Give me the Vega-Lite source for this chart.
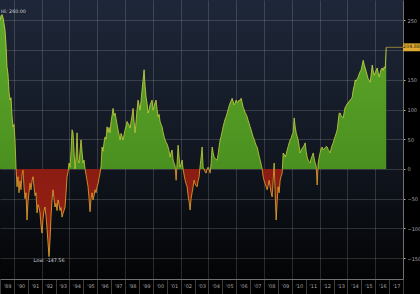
{
 "$schema": "https://vega.github.io/schema/vega-lite/v6.json",
 "width": 403,
 "height": 279,
 "autosize": {"type": "none"},
 "padding": {"left": 0, "top": 0, "right": 17, "bottom": 15},
 "background": "#000000",
 "config": {
  "view": {"stroke": null, "fill": {"gradient": "linear", "x1": 0, "y1": 0, "x2": 0, "y2": 1, "stops": [{"offset": 0, "color": "#1e2739"}, {"offset": 0.5, "color": "#131924"}, {"offset": 1, "color": "#030405"}]}},
  "font": "DejaVu Sans"
 },
 "datasets": {
  "series": [
{"t":1989.000,"v":250},{"t":1989.072,"v":258},{"t":1989.144,"v":260},{"t":1989.216,"v":255},{"t":1989.288,"v":245},{"t":1989.360,"v":234},{"t":1989.432,"v":210},{"t":1989.504,"v":172},{"t":1989.576,"v":160},{"t":1989.648,"v":130},
{"t":1989.720,"v":116},{"t":1989.792,"v":120},{"t":1989.864,"v":90},{"t":1989.936,"v":71},{"t":1990.008,"v":75},{"t":1990.080,"v":49},{"t":1990.152,"v":3},{"t":1990.224,"v":-30},{"t":1990.296,"v":-13},{"t":1990.368,"v":-40},
{"t":1990.440,"v":-20},{"t":1990.512,"v":-35},{"t":1990.584,"v":-10},{"t":1990.656,"v":-2},{"t":1990.728,"v":-30},{"t":1990.800,"v":-50},{"t":1990.872,"v":-40},{"t":1990.944,"v":-86},{"t":1991.016,"v":-55},{"t":1991.088,"v":-40},
{"t":1991.160,"v":-24},{"t":1991.232,"v":-35},{"t":1991.304,"v":-20},{"t":1991.376,"v":-13},{"t":1991.448,"v":-30},{"t":1991.520,"v":-45},{"t":1991.592,"v":-40},{"t":1991.664,"v":-74},{"t":1991.736,"v":-60},{"t":1991.808,"v":-65},
{"t":1991.880,"v":-74},{"t":1991.952,"v":-95},{"t":1992.024,"v":-108},{"t":1992.096,"v":-85},{"t":1992.168,"v":-70},{"t":1992.240,"v":-64},{"t":1992.312,"v":-80},{"t":1992.384,"v":-100},{"t":1992.456,"v":-125},{"t":1992.528,"v":-147.56},
{"t":1992.600,"v":-120},{"t":1992.672,"v":-80},{"t":1992.744,"v":-52},{"t":1992.816,"v":-35},{"t":1992.888,"v":-50},{"t":1992.960,"v":-64},{"t":1993.032,"v":-58},{"t":1993.104,"v":-70},{"t":1993.176,"v":-52},{"t":1993.248,"v":-60},
{"t":1993.320,"v":-70},{"t":1993.392,"v":-65},{"t":1993.464,"v":-81},{"t":1993.536,"v":-75},{"t":1993.608,"v":-70},{"t":1993.680,"v":-64},{"t":1993.752,"v":-40},{"t":1993.824,"v":-13},{"t":1993.896,"v":-5},{"t":1993.968,"v":10},
{"t":1994.040,"v":3},{"t":1994.112,"v":30},{"t":1994.184,"v":66},{"t":1994.256,"v":61},{"t":1994.328,"v":30},{"t":1994.400,"v":0},{"t":1994.472,"v":20},{"t":1994.544,"v":61},{"t":1994.616,"v":15},{"t":1994.688,"v":10},
{"t":1994.760,"v":30},{"t":1994.832,"v":49},{"t":1994.904,"v":30},{"t":1994.976,"v":10},{"t":1995.048,"v":15},{"t":1995.120,"v":0},{"t":1995.192,"v":-10},{"t":1995.264,"v":-20},{"t":1995.336,"v":-30},{"t":1995.408,"v":-50},
{"t":1995.480,"v":-72},{"t":1995.552,"v":-50},{"t":1995.624,"v":-40},{"t":1995.696,"v":-52},{"t":1995.768,"v":-45},{"t":1995.840,"v":-35},{"t":1995.912,"v":-40},{"t":1995.984,"v":-30},{"t":1996.056,"v":-25},{"t":1996.128,"v":-15},
{"t":1996.200,"v":-7},{"t":1996.272,"v":5},{"t":1996.344,"v":37},{"t":1996.416,"v":30},{"t":1996.488,"v":45},{"t":1996.560,"v":54},{"t":1996.632,"v":50},{"t":1996.704,"v":71},{"t":1996.776,"v":62},{"t":1996.848,"v":70},
{"t":1996.920,"v":61},{"t":1996.992,"v":80},{"t":1997.064,"v":90},{"t":1997.136,"v":102},{"t":1997.208,"v":90},{"t":1997.280,"v":94},{"t":1997.352,"v":85},{"t":1997.424,"v":75},{"t":1997.496,"v":66},{"t":1997.568,"v":58},
{"t":1997.640,"v":49},{"t":1997.712,"v":60},{"t":1997.784,"v":55},{"t":1997.856,"v":49},{"t":1997.928,"v":58},{"t":1998.000,"v":66},{"t":1998.072,"v":72},{"t":1998.144,"v":80},{"t":1998.216,"v":77},{"t":1998.288,"v":74},
{"t":1998.360,"v":69},{"t":1998.432,"v":80},{"t":1998.504,"v":90},{"t":1998.576,"v":102},{"t":1998.648,"v":80},{"t":1998.720,"v":61},{"t":1998.792,"v":80},{"t":1998.864,"v":100},{"t":1998.936,"v":116},{"t":1999.008,"v":108},
{"t":1999.080,"v":99},{"t":1999.152,"v":115},{"t":1999.224,"v":133},{"t":1999.296,"v":150},{"t":1999.368,"v":167},{"t":1999.440,"v":140},{"t":1999.512,"v":121},{"t":1999.584,"v":110},{"t":1999.656,"v":94},{"t":1999.728,"v":100},
{"t":1999.800,"v":108},{"t":1999.872,"v":112},{"t":1999.944,"v":116},{"t":2000.016,"v":99},{"t":2000.088,"v":105},{"t":2000.160,"v":112},{"t":2000.232,"v":116},{"t":2000.304,"v":100},{"t":2000.376,"v":88},{"t":2000.448,"v":92},
{"t":2000.520,"v":80},{"t":2000.592,"v":75},{"t":2000.664,"v":71},{"t":2000.736,"v":62},{"t":2000.808,"v":55},{"t":2000.880,"v":49},{"t":2000.952,"v":45},{"t":2001.024,"v":42},{"t":2001.096,"v":37},{"t":2001.168,"v":30},
{"t":2001.240,"v":20},{"t":2001.312,"v":28},{"t":2001.384,"v":32},{"t":2001.456,"v":15},{"t":2001.528,"v":10},{"t":2001.600,"v":5},{"t":2001.672,"v":-19},{"t":2001.744,"v":10},{"t":2001.816,"v":40},{"t":2001.888,"v":20},
{"t":2001.960,"v":3},{"t":2002.032,"v":8},{"t":2002.104,"v":15},{"t":2002.176,"v":0},{"t":2002.248,"v":-10},{"t":2002.320,"v":-19},{"t":2002.392,"v":-25},{"t":2002.464,"v":-30},{"t":2002.536,"v":-45},{"t":2002.608,"v":-55},
{"t":2002.680,"v":-69},{"t":2002.752,"v":-50},{"t":2002.824,"v":-40},{"t":2002.896,"v":-30},{"t":2002.968,"v":-19},{"t":2003.040,"v":-25},{"t":2003.112,"v":-28},{"t":2003.184,"v":-30},{"t":2003.256,"v":-20},{"t":2003.328,"v":-13},
{"t":2003.400,"v":5},{"t":2003.472,"v":20},{"t":2003.544,"v":37},{"t":2003.616,"v":3},{"t":2003.688,"v":0},{"t":2003.760,"v":-5},{"t":2003.832,"v":-7},{"t":2003.904,"v":0},{"t":2003.976,"v":3},{"t":2004.048,"v":0},
{"t":2004.120,"v":-7},{"t":2004.192,"v":10},{"t":2004.264,"v":37},{"t":2004.336,"v":28},{"t":2004.408,"v":20},{"t":2004.480,"v":18},{"t":2004.552,"v":16},{"t":2004.624,"v":15},{"t":2004.696,"v":25},{"t":2004.768,"v":38},
{"t":2004.840,"v":49},{"t":2004.912,"v":55},{"t":2004.984,"v":63},{"t":2005.056,"v":71},{"t":2005.128,"v":78},{"t":2005.200,"v":84},{"t":2005.272,"v":88},{"t":2005.344,"v":94},{"t":2005.416,"v":100},{"t":2005.488,"v":106},
{"t":2005.560,"v":111},{"t":2005.632,"v":115},{"t":2005.704,"v":119},{"t":2005.776,"v":114},{"t":2005.848,"v":108},{"t":2005.920,"v":111},{"t":2005.992,"v":116},{"t":2006.064,"v":112},{"t":2006.136,"v":113},{"t":2006.208,"v":116},
{"t":2006.280,"v":115},{"t":2006.352,"v":119},{"t":2006.424,"v":112},{"t":2006.496,"v":104},{"t":2006.568,"v":100},{"t":2006.640,"v":95},{"t":2006.712,"v":92},{"t":2006.784,"v":88},{"t":2006.856,"v":82},{"t":2006.928,"v":77},
{"t":2007.000,"v":71},{"t":2007.072,"v":66},{"t":2007.144,"v":60},{"t":2007.216,"v":54},{"t":2007.288,"v":50},{"t":2007.360,"v":45},{"t":2007.432,"v":40},{"t":2007.504,"v":37},{"t":2007.576,"v":30},{"t":2007.648,"v":22},
{"t":2007.720,"v":15},{"t":2007.792,"v":8},{"t":2007.864,"v":0},{"t":2007.936,"v":-13},{"t":2008.008,"v":-20},{"t":2008.080,"v":-25},{"t":2008.152,"v":-30},{"t":2008.224,"v":-35},{"t":2008.296,"v":-28},{"t":2008.368,"v":-19},
{"t":2008.440,"v":-30},{"t":2008.512,"v":-40},{"t":2008.584,"v":-47},{"t":2008.656,"v":-20},{"t":2008.728,"v":10},{"t":2008.800,"v":-40},{"t":2008.872,"v":-86},{"t":2008.944,"v":-55},{"t":2009.016,"v":-30},{"t":2009.088,"v":-40},
{"t":2009.160,"v":-19},{"t":2009.232,"v":-12},{"t":2009.304,"v":-7},{"t":2009.376,"v":27},{"t":2009.448,"v":25},{"t":2009.520,"v":20},{"t":2009.592,"v":25},{"t":2009.664,"v":32},{"t":2009.736,"v":38},{"t":2009.808,"v":44},
{"t":2009.880,"v":49},{"t":2009.952,"v":52},{"t":2010.024,"v":58},{"t":2010.096,"v":61},{"t":2010.168,"v":86},{"t":2010.240,"v":72},{"t":2010.312,"v":61},{"t":2010.384,"v":55},{"t":2010.456,"v":49},{"t":2010.528,"v":38},
{"t":2010.600,"v":27},{"t":2010.672,"v":32},{"t":2010.744,"v":35},{"t":2010.816,"v":37},{"t":2010.888,"v":40},{"t":2010.960,"v":44},{"t":2011.032,"v":30},{"t":2011.104,"v":20},{"t":2011.176,"v":15},{"t":2011.248,"v":12},
{"t":2011.320,"v":10},{"t":2011.392,"v":18},{"t":2011.464,"v":22},{"t":2011.536,"v":27},{"t":2011.608,"v":18},{"t":2011.680,"v":10},{"t":2011.752,"v":5},{"t":2011.824,"v":-27},{"t":2011.896,"v":10},{"t":2011.968,"v":20},
{"t":2012.040,"v":28},{"t":2012.112,"v":35},{"t":2012.184,"v":37},{"t":2012.256,"v":32},{"t":2012.328,"v":34},{"t":2012.400,"v":36},{"t":2012.472,"v":38},{"t":2012.544,"v":37},{"t":2012.616,"v":33},{"t":2012.688,"v":30},
{"t":2012.760,"v":27},{"t":2012.832,"v":35},{"t":2012.904,"v":40},{"t":2012.976,"v":44},{"t":2013.048,"v":50},{"t":2013.120,"v":55},{"t":2013.192,"v":60},{"t":2013.264,"v":66},{"t":2013.336,"v":80},{"t":2013.408,"v":94},
{"t":2013.480,"v":94},{"t":2013.552,"v":90},{"t":2013.624,"v":88},{"t":2013.696,"v":86},{"t":2013.768,"v":96},{"t":2013.840,"v":104},{"t":2013.912,"v":106},{"t":2013.984,"v":110},{"t":2014.056,"v":111},{"t":2014.128,"v":114},
{"t":2014.200,"v":116},{"t":2014.272,"v":118},{"t":2014.344,"v":121},{"t":2014.416,"v":133},{"t":2014.488,"v":140},{"t":2014.560,"v":150},{"t":2014.632,"v":148},{"t":2014.704,"v":152},{"t":2014.776,"v":155},{"t":2014.848,"v":160},
{"t":2014.920,"v":164},{"t":2014.992,"v":167},{"t":2015.064,"v":175},{"t":2015.136,"v":183},{"t":2015.208,"v":176},{"t":2015.280,"v":170},{"t":2015.352,"v":164},{"t":2015.424,"v":158},{"t":2015.496,"v":152},{"t":2015.568,"v":149},
{"t":2015.640,"v":146},{"t":2015.712,"v":160},{"t":2015.784,"v":175},{"t":2015.856,"v":165},{"t":2015.928,"v":158},{"t":2016.000,"v":162},{"t":2016.072,"v":166},{"t":2016.144,"v":170},{"t":2016.216,"v":162},{"t":2016.288,"v":155},
{"t":2016.360,"v":162},{"t":2016.432,"v":168},{"t":2016.504,"v":170},{"t":2016.576,"v":166},{"t":2016.648,"v":172},{"t":2016.720,"v":170},{"t":2016.792,"v":204.88}
  ]
 },
 "layer": [
  {
   "data": {"name": "series"},
   "mark": {"type": "area", "stroke": null, "fill": {"gradient": "linear", "x1": 0, "y1": 0, "x2": 0, "y2": 1, "stops": [{"offset": 0, "color": "#5ea82a"}, {"offset": 0.637, "color": "#4a9020"}, {"offset": 0.639, "color": "#8a1c12"}, {"offset": 1, "color": "#9a2214"}]}},
   "encoding": {
    "x": {"field": "t", "type": "quantitative", "scale": {"domain": [1989, 2018], "nice": false, "zero": false},
     "axis": {"orient": "bottom", "title": null, "tickCount": 100, "values": [1989,1990,1991,1992,1993,1994,1995,1996,1997,1998,1999,2000,2001,2002,2003,2004,2005,2006,2007,2008,2009,2010,2011,2012,2013,2014,2015,2016,2017,2018],
      "labelExpr": "datum.value < 2018 ? \"'\" + format(datum.value % 100, '02d') : ''",
      "labelOffset": 7, "labelAlign": "center", "labelPadding": -11, "labelFontSize": 5, "labelColor": "#a8a8a8", "labelOverlap": false, "labelFlush": false, "labelBound": false,
      "domainColor": "#707070", "tickColor": "#3c3c3c", "tickSize": 15, "tickWidth": 1,
      "grid": true, "gridColor": "#ffffff", "gridOpacity": {"condition": {"test": "datum.value % 2 == 0", "value": 0.15}, "value": 0}}},
    "y": {"field": "v", "type": "quantitative", "stack": null, "scale": {"domain": [-185.2, 284.5], "nice": false, "zero": false},
     "axis": {"orient": "right", "title": null, "tickCount": 100, "values": [-150,-100,-50,0,50,100,150,200,250],
      "labelExpr": "datum.value == 200 ? '' : datum.label", "labelOverlap": false,
      "labelFontSize": 5, "labelColor": "#a8a8a8", "labelPadding": 2, "domainColor": "#707070", "tickColor": "#c0b070", "tickSize": 2,
      "grid": true, "gridColor": "#ffffff", "gridOpacity": 0.15}},
    "y2": {"datum": 0}
   }
  },
  {
   "data": {"name": "series"},
   "mark": {"type": "line", "strokeWidth": 0.8, "stroke": {"gradient": "linear", "x1": 0, "y1": 0, "x2": 0, "y2": 1, "stops": [{"offset": 0, "color": "#d6dc48"}, {"offset": 0.637, "color": "#c4cc38"}, {"offset": 0.639, "color": "#e8a22c"}, {"offset": 1, "color": "#f0b030"}]}},
   "encoding": {
    "x": {"field": "t", "type": "quantitative"},
    "y": {"field": "v", "type": "quantitative"}
   }
  },
  {
   "data": {"values": [{"t": 2016.792, "v": 204.88, "label": "204.88"}]},
   "layer": [
    {"mark": {"type": "rule", "color": "#c8a848", "strokeWidth": 0.7},
     "encoding": {"x": {"field": "t", "type": "quantitative"}, "x2": {"datum": 2018}, "y": {"field": "v", "type": "quantitative"}}},
    {"mark": {"type": "rect", "color": "#e0aa30"},
     "encoding": {"x": {"datum": 2018}, "x2": {"datum": 2019.22}, "y": {"datum": 211.5}, "y2": {"datum": 198.2}}},
    {"mark": {"type": "text", "fontSize": 4.8, "color": "#2a2208", "align": "center", "baseline": "middle"},
     "encoding": {"x": {"datum": 2018.61}, "y": {"field": "v", "type": "quantitative"}, "text": {"field": "label"}}}
   ]
  },
  {
   "data": {"values": [{"t": 1989.144, "v": 260, "label": "Hi: 260.00"}]},
   "mark": {"type": "text", "fontSize": 4.8, "color": "#d8d8d8", "align": "left", "baseline": "middle", "dx": -1, "dy": -3},
   "encoding": {"x": {"field": "t", "type": "quantitative"}, "y": {"field": "v", "type": "quantitative"}, "text": {"field": "label"}}
  },
  {
   "data": {"values": [{"t": 1992.528, "v": -147.56, "label": "Low: -147.56"}]},
   "mark": {"type": "text", "fontSize": 4.8, "color": "#d8d8d8", "align": "center", "baseline": "top", "dy": 1},
   "encoding": {"x": {"field": "t", "type": "quantitative"}, "y": {"field": "v", "type": "quantitative"}, "text": {"field": "label"}}
  }
 ]
}
